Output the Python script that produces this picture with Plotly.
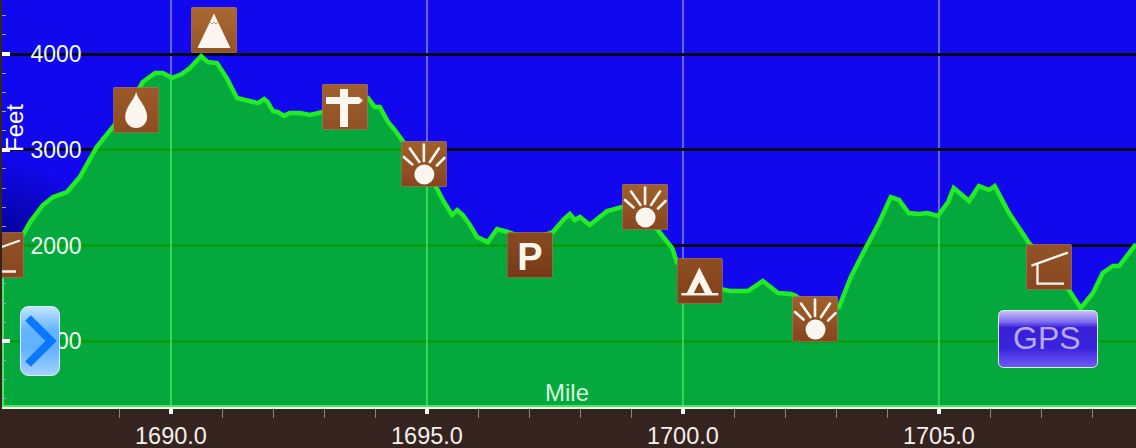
import base64
import numpy as np
import plotly.graph_objects as go

miles = [1686.66,1686.93,1687.15,1687.25,1687.50,1687.70,1687.97,1688.22,1688.55,1688.87,1689.10,1689.45,1689.69,1689.84,1690.02,1690.21,1690.37,1690.59,1690.72,1690.90,1691.09,1691.29,1691.54,1691.70,1691.82,1691.89,1691.99,1692.09,1692.21,1692.32,1692.52,1692.71,1692.95,1693.30,1693.85,1693.98,1694.08,1694.24,1694.37,1694.51,1694.86,1695.19,1695.31,1695.49,1695.59,1695.70,1695.84,1695.98,1696.19,1696.37,1696.58,1697.01,1697.46,1697.66,1697.79,1697.89,1697.99,1698.18,1698.52,1698.81,1699.16,1699.51,1699.79,1699.88,1700.33,1700.78,1700.92,1701.27,1701.50,1701.56,1701.86,1702.11,1702.21,1702.58,1703.05,1703.28,1703.57,1703.83,1704.06,1704.22,1704.41,1704.61,1704.78,1704.98,1705.18,1705.29,1705.59,1705.78,1705.98,1706.09,1706.37,1706.56,1706.76,1707.17,1707.54,1707.77,1708.01,1708.20,1708.40,1708.52,1708.85]
feet = [1828,1954,2152,2246,2424,2507,2559,2716,3029,3238,3394,3708,3802,3802,3749,3791,3854,3979,3916,3906,3749,3541,3509,3488,3530,3499,3405,3394,3353,3384,3384,3363,3394,3468,3541,3447,3447,3290,3207,3102,2841,2601,2476,2319,2371,2319,2215,2089,2037,2173,2142,2058,2142,2267,2330,2267,2298,2215,2361,2403,2350,2163,1975,1828,1588,1536,1526,1526,1620,1630,1505,1494,1474,1306,1359,1672,1975,2236,2507,2476,2340,2330,2340,2309,2455,2601,2465,2622,2580,2622,2340,2194,2027,1797,1536,1348,1505,1714,1787,1787,2016]

y_levels = [1000, 2000, 3000, 4000]
x_levels = [1690, 1695, 1700, 1705]

icon_names = ["shelter","water","peak","sign","view","parking","view","camp","view","shelter"]
icon_miles = [1686.68,1689.32,1690.84,1693.40,1694.94,1697.01,1699.26,1700.33,1702.58,1707.15]
icon_feet = [1902,3415,4251,3447,2852,1902,2403,1630,1233,1776]

X0, X1 = 1686.70, 1708.85
Y0, Y1 = 315, 4564
W, H, ML, MB = 1136, 448, 2, 41
PW, PH = W-ML, H-MB

def svg_uri(body):
    return "data:image/svg+xml;base64," + base64.b64encode(body.encode()).decode()

def icon(glyph, top="#a5632f", bot="#803f1a"):
    return svg_uri(f'''<svg xmlns="http://www.w3.org/2000/svg" width="92" height="92" viewBox="0 0 46 46">
<defs><linearGradient id="g" x1="0" y1="0" x2="0" y2="1"><stop offset="0" stop-color="{top}"/><stop offset="1" stop-color="{bot}"/></linearGradient></defs>
<rect x="0.3" y="0.3" width="45.4" height="45.4" rx="1.5" fill="url(#g)" stroke="#b08a6c" stroke-width="0.6"/>{glyph}</svg>''')

W_ = "#fbf6ef"
rays = "".join(f'<line x1="{a}" y1="{b}" x2="{c}" y2="{d}" stroke="{W_}" stroke-width="2.6" stroke-linecap="round"/>'
               for a,b,c,d in [(23,3.5,23,20),(9,7.5,18.5,21),(38,7.5,29,21),(3,16,11.5,23.5),(43.5,17,36,24.5)])
GLYPHS = {
 "view": rays + f'<circle cx="23.5" cy="33.5" r="10" fill="{W_}"/>',
 "water": f'<path d="M23 5 C25 13 34 20 34 30 A11 11 0 0 1 12 30 C12 20 21 13 23 5Z" fill="{W_}"/>',
 "peak": f'<path d="M23 6.5 L39.5 41 L6.5 41 Z" fill="{W_}"/>'
         f'<path d="M19 15 l2 2 l2 -2 l2 2 l2 -2" fill="none" stroke="#a5632f" stroke-width="0.7"/>',
 "sign": f'<rect x="18" y="5" width="8" height="38" fill="{W_}"/><path d="M4 13 H37 L41 16.5 L37 20 H4 Z" fill="{W_}"/>',
 "parking": f'<text x="23" y="38" text-anchor="middle" font-family="Liberation Sans" font-weight="700" font-size="38" fill="{W_}">P</text>',
 "camp": f'<path d="M22.5 9.5 L36 36 H28.5 L22.5 24 L16.5 36 H9.5 Z" fill="{W_}"/><rect x="4.5" y="35" width="37" height="2.4" fill="{W_}"/>',
 "shelter": f'<path d="M5.5 21.5 L42 8.5 M11.5 20 V39.5 H38" fill="none" stroke="{W_}" stroke-width="2.3"/>',
}
BROWNS = {"peak":("#ab6832","#935425"),"water":("#9c5a2a","#8f4c20"),"sign":("#a0602d","#8f5025"),
          "parking":("#8a4a20","#743a16"),"camp":("#8f4e22","#7f4019"),"view":("#a0602c","#854620"),
          "shelter":("#93522a","#87471f")}

chevron = svg_uri('''<svg xmlns="http://www.w3.org/2000/svg" width="80" height="140" viewBox="0 0 40 70">
<defs><linearGradient id="g" x1="0" y1="0" x2="0" y2="1"><stop offset="0" stop-color="#c4e4ff"/><stop offset="0.35" stop-color="#62b4ff"/><stop offset="0.6" stop-color="#62b0ff"/><stop offset="1" stop-color="#a4d2ff"/></linearGradient></defs>
<rect x="0.5" y="0.5" width="39" height="69" rx="8" fill="url(#g)" stroke="#d8f0f8"/>
<path d="M8 12 L31 35 L8 58" fill="none" stroke="#0a78ff" stroke-width="8"/></svg>''')
gps = svg_uri('''<svg xmlns="http://www.w3.org/2000/svg" width="200" height="116" viewBox="0 0 100 58">
<defs><linearGradient id="g" x1="0" y1="0" x2="0" y2="1"><stop offset="0" stop-color="#cfc4f4"/><stop offset="0.2" stop-color="#7d6cf0"/><stop offset="0.3" stop-color="#3a1fd8"/><stop offset="0.65" stop-color="#3a22dc"/><stop offset="1" stop-color="#6e5cf5"/></linearGradient></defs>
<rect x="0.5" y="0.5" width="99" height="57" rx="5" fill="url(#g)" stroke="#d8f0e8"/></svg>''')
backdrop = svg_uri('''<svg xmlns="http://www.w3.org/2000/svg" width="1134" height="407" viewBox="0 0 1134 407" preserveAspectRatio="none">
<defs><radialGradient id="d" gradientUnits="userSpaceOnUse" cx="0" cy="262" r="105"><stop offset="0" stop-color="#000080"/><stop offset="1" stop-color="#000080" stop-opacity="0"/></radialGradient></defs>
<rect width="1134" height="407" fill="#1208ee"/><rect width="1134" height="407" fill="url(#d)"/></svg>''')

def above_segments(xs, ys, level):
    """Parts of a horizontal level that lie under the profile."""
    ox, oy = [], []
    start = xs[0] if ys[0] >= level else None
    for i in range(1, len(xs)):
        a, b = ys[i-1], ys[i]
        if (a < level) != (b < level):
            cross = xs[i-1] + (level-a)/(b-a)*(xs[i]-xs[i-1])
            if start is None:
                start = cross
            else:
                ox += [start, cross, None]; oy += [level, level, None]
                start = None
    if start is not None:
        ox += [start, xs[-1], None]; oy += [level, level, None]
    return ox, oy

fig = go.Figure()
fig.add_trace(go.Scatter(x=miles, y=feet, mode="lines", line=dict(width=0), fill="tozeroy",
                         fillcolor="#05a83c", hoverinfo="skip", showlegend=False))
hx, hy = [], []
for lv in y_levels:
    a, b = above_segments(miles, feet, lv); hx += a; hy += b
fig.add_trace(go.Scatter(x=hx, y=hy, mode="lines", line=dict(color="#009c08", width=2.5), showlegend=False))
vx, vy = [], []
for m in x_levels:
    vx += [m, m, None]; vy += [Y0, float(np.interp(m, miles, feet)), None]
fig.add_trace(go.Scatter(x=vx, y=vy, mode="lines", line=dict(color="#36d852", width=2), showlegend=False))
fig.add_trace(go.Scatter(x=[X0, X0, None, X0, X1], y=[Y0, feet[0], None, Y0, Y0], mode="lines",
                         line=dict(color="#46e85a", width=4), showlegend=False))
fig.add_trace(go.Scatter(x=miles, y=feet, mode="lines", line=dict(color="#20ee20", width=4.5), showlegend=False))

images = [dict(source=backdrop, xref="paper", yref="paper", x=0, y=1, sizex=1, sizey=1, xanchor="left",
               yanchor="top", sizing="stretch", layer="below")]
for n, m, f in zip(icon_names, icon_miles, icon_feet):
    images.append(dict(source=icon(GLYPHS[n], *BROWNS[n]), xref="x", yref="y", x=m, y=f,
                       sizex=46/(PW/(X1-X0)), sizey=46*(Y1-Y0)/PH, xanchor="center", yanchor="middle",
                       sizing="stretch", layer="above"))
def px_img(src, l, t, w, h):
    images.append(dict(source=src, xref="paper", yref="paper", x=(l-ML)/PW, y=1-t/PH,
                       sizex=w/PW, sizey=h/PH, xanchor="left", yanchor="top", sizing="stretch", layer="above"))
px_img(chevron, 20, 306, 40, 70)
px_img(gps, 998, 310, 100, 58)

def px_note(text, x, y, size, color, angle=0):
    return dict(text=text, xref="paper", yref="paper", x=(x-ML)/PW, y=1-y/PH, xanchor="center", yanchor="middle",
                showarrow=False, textangle=angle, font=dict(size=size, color=color))

FONT = "Liberation Sans"
fig.update_layout(
    width=W, height=H, margin=dict(l=ML, r=0, t=0, b=MB, pad=0, autoexpand=False), autosize=False,
    paper_bgcolor="#35231f", plot_bgcolor="#1208ee", showlegend=False,
    font=dict(family=FONT, color="white"), images=images,
    xaxis=dict(range=[X0, X1], tick0=1690, dtick=5, tickformat=".1f", showgrid=True, gridcolor="#6b62fa", gridwidth=2,
               zeroline=False, showline=True, linecolor="#eefff0", linewidth=2, ticks="outside", ticklen=5,
               tickwidth=4, tickcolor="white", tickfont=dict(size=23.5, color="#f4f0ee"), ticklabelstandoff=2,
               automargin=False,
               minor=dict(dtick=1, tick0=1690, ticks="outside", ticklen=9, tickwidth=1, tickcolor="#8d8380", showgrid=False)),
    yaxis=dict(range=[Y0, Y1], tick0=0, dtick=1000, showgrid=True, gridcolor="#05051c", gridwidth=2.5, zeroline=False,
               showline=False, ticks="inside", ticklen=8, tickwidth=4, tickcolor="white", automargin=False,
               ticklabelposition="inside", ticklabelstandoff=22, tickfont=dict(size=23, color="#ecfff0"),
               minor=dict(dtick=200, tick0=0, ticks="inside", ticklen=4, tickwidth=1, tickcolor="#9aa6e0", showgrid=False)),
    annotations=[
        px_note("Mile", 567, 392, 24, "#d4f6dc"),
        px_note("Feet", 15, 128, 24, "white", -90),
        px_note("GPS", 1047, 338, 32, "#b8a8f5"),
    ],
)
fig.write_html("out.html", config=dict(displayModeBar=False), post_script="document.body.style.margin='0';")
